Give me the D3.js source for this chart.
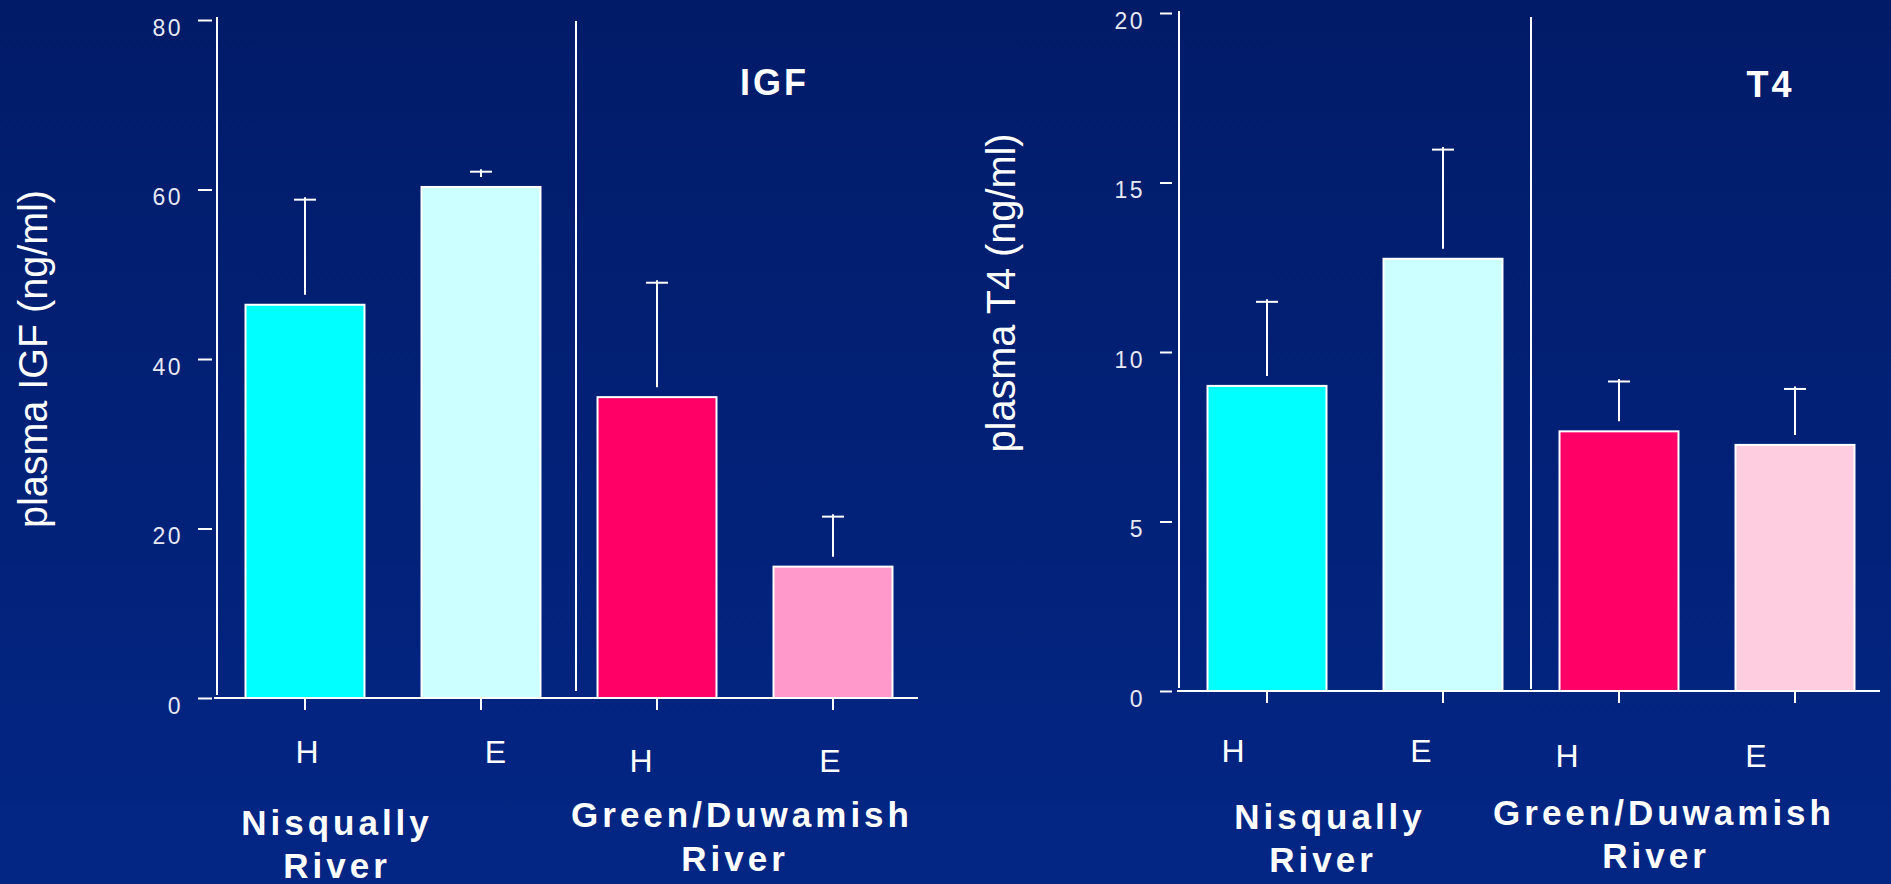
<!DOCTYPE html>
<html>
<head>
<meta charset="utf-8">
<script src="https://cdn.jsdelivr.net/npm/d3@7/dist/d3.min.js"></script>
<style>
  html, body { margin: 0; padding: 0; overflow: hidden; }
  body { width: 1891px; height: 884px; }
  svg { display: block; }
</style>
</head>
<body>
<svg id="chart" width="1891" height="884"></svg>
<script>
// ---------------- DATA ----------------
const categories = ["Nisqually H", "Nisqually E", "Green/Duwamish H", "Green/Duwamish E"];
const barLabels = ["H", "E", "H", "E"];
const riverLabels = [["Nisqually", "River"], ["Green/Duwamish", "River"]];

const igfMean = [46.4, 60.3, 35.5, 15.5];
const igfUpper = [58.8, 62.1, 49.0, 21.4];   // mean + SE
const igfTicks = [0, 20, 40, 60, 80];

const t4Mean = [9.0, 12.75, 7.66, 7.26];
const t4Upper = [11.48, 15.97, 9.13, 8.91];  // mean + SE
const t4Ticks = [0, 5, 10, 15, 20];

// ---------------- STYLE / LAYOUT ----------------
const igfColors = ["#00FFFF", "#CCFFFF", "#FF0066", "#FF99CC"];
const t4Colors  = ["#00FFFF", "#CCFFFF", "#FF0066", "#FFCCE0"];

const svg = d3.select("#chart");
const defs = svg.append("defs");
const grad = defs.append("linearGradient").attr("id", "bg")
  .attr("x1", 0).attr("y1", 0).attr("x2", 0).attr("y2", 1);
grad.append("stop").attr("offset", "0%").attr("stop-color", "#011b68");
grad.append("stop").attr("offset", "100%").attr("stop-color", "#032685");
svg.append("rect").attr("width", 1891).attr("height", 884).attr("fill", "url(#bg)");

const panels = [
  {
    mean: igfMean, upper: igfUpper, ticks: igfTicks, colors: igfColors,
    domain: [0, 80], yRange: [698, 20], xRange: [217, 921],
    axisX: 217, axisTop: 17, tickLen: 14, tickGap: 5, labelEnd: 183,
    xAxisStart: 214, xAxisEnd: 918, xTickLen: 12,
    divider: { top: 21, bottom: 691, dx: 7 },
    title: "IGF", titlePos: [773, 95],
    yLabel: "plasma IGF (ng/ml)", yLabelPos: [47, 359], yLabelLen: 338,
    barLabelPos: [[307, 751], [495.5, 751], [641, 760], [830, 760]],
    riverPos: [[[335, 835], [335, 878]], [[740, 827], [733, 871]]]
  },
  {
    mean: t4Mean, upper: t4Upper, ticks: t4Ticks, colors: t4Colors,
    domain: [0, 20], yRange: [691, 13], xRange: [1179, 1883],
    axisX: 1179, axisTop: 11, tickLen: 12, tickGap: 7, labelEnd: 1145,
    xAxisStart: 1177, xAxisEnd: 1880, xTickLen: 12,
    divider: { top: 17, bottom: 689, dx: 0 },
    title: "T4", titlePos: [1769, 97],
    yLabel: "plasma T4 (ng/ml)", yLabelPos: [1015, 293], yLabelLen: 319,
    barLabelPos: [[1233, 750], [1421, 750], [1567, 755], [1756, 755]],
    riverPos: [[[1328, 829], [1321, 872]], [[1662, 825], [1654, 868]]]
  }
];

panels.forEach(p => {
  const g = svg.append("g");
  const y = d3.scaleLinear().domain(p.domain).range(p.yRange);
  const x = d3.scaleBand().domain(categories).range(p.xRange)
    .paddingInner(0.324).paddingOuter(0.162);

  // Y axis ticks + labels
  const tickEnd = p.axisX - p.tickGap;
  const yAxis = d3.axisLeft(y).tickValues(p.ticks).tickSize(p.tickLen)
    .tickPadding(tickEnd - p.tickLen - p.labelEnd).tickSizeOuter(0);
  const ya = g.append("g").attr("transform", `translate(${tickEnd},0)`).call(yAxis);
  ya.select(".domain").remove();
  ya.selectAll(".tick line").attr("stroke", "#ffffff").attr("stroke-width", 2);
  ya.selectAll(".tick text")
    .attr("fill", "#e6e8f2")
    .attr("font-family", "Liberation Sans, Arial, sans-serif")
    .attr("font-size", 23)
    .attr("letter-spacing", "2.5px")
    .attr("y", 7)
    .attr("dy", "0.36em");

  // Y axis line
  g.append("line").attr("x1", p.axisX).attr("x2", p.axisX)
    .attr("y1", p.axisTop).attr("y2", p.yRange[0] - 3)
    .attr("stroke", "#fff").attr("stroke-width", 2);

  // X axis line
  g.append("line").attr("x1", p.xAxisStart).attr("x2", p.xAxisEnd)
    .attr("y1", y(0)).attr("y2", y(0))
    .attr("stroke", "#fff").attr("stroke-width", 2);

  // X ticks
  const xAxis = d3.axisBottom(x).tickSize(p.xTickLen).tickSizeOuter(0).tickFormat("");
  const xa = g.append("g").attr("transform", `translate(0,${y(0)})`).call(xAxis);
  xa.select(".domain").remove();
  xa.selectAll(".tick line").attr("stroke", "#fff").attr("stroke-width", 2);

  // Divider
  const midX = (x(categories[1]) + x.bandwidth() + x(categories[2])) / 2 + p.divider.dx;
  g.append("line").attr("x1", midX).attr("x2", midX)
    .attr("y1", p.divider.top).attr("y2", p.divider.bottom)
    .attr("stroke", "#fff").attr("stroke-width", 2);

  // Bars
  g.selectAll(".bar").data(categories).enter().append("rect")
    .attr("x", d => x(d))
    .attr("width", x.bandwidth())
    .attr("y", (d, i) => y(p.mean[i]))
    .attr("height", (d, i) => y(0) - y(p.mean[i]))
    .attr("fill", (d, i) => p.colors[i])
    .attr("stroke", "#fff").attr("stroke-width", 2);

  // Error bars
  categories.forEach((c, i) => {
    const cx = x(c) + x.bandwidth() / 2;
    g.append("line").attr("x1", cx).attr("x2", cx)
      .attr("y1", y(p.mean[i]) - 10).attr("y2", y(p.upper[i]) - 2.5)
      .attr("stroke", "#fff").attr("stroke-width", 2);
    g.append("line").attr("x1", cx - 11).attr("x2", cx + 11)
      .attr("y1", y(p.upper[i])).attr("y2", y(p.upper[i]))
      .attr("stroke", "#fff").attr("stroke-width", 2);
  });

  // Bar labels H / E
  barLabels.forEach((t, i) => {
    g.append("text").text(t)
      .attr("x", p.barLabelPos[i][0]).attr("y", p.barLabelPos[i][1])
      .attr("dy", "0.36em")
      .attr("text-anchor", "middle")
      .attr("fill", "#fff")
      .attr("font-family", "Liberation Sans, Arial, sans-serif")
      .attr("font-size", 32);
  });

  // River labels
  riverLabels.forEach((lines, gi) => {
    lines.forEach((t, li) => {
      const pos = p.riverPos[gi][li];
      g.append("text").text(t)
        .attr("x", pos[0] + 2).attr("y", pos[1])
        .attr("text-anchor", "middle")
        .attr("fill", "#fff")
        .attr("font-family", "Liberation Sans, Arial, sans-serif")
        .attr("font-weight", "bold")
        .attr("font-size", 35)
        .attr("letter-spacing", "4px");
    });
  });

  // Panel title
  g.append("text").text(p.title)
    .attr("x", p.titlePos[0] + 1.5).attr("y", p.titlePos[1])
    .attr("text-anchor", "middle")
    .attr("fill", "#fff")
    .attr("font-family", "Liberation Sans, Arial, sans-serif")
    .attr("font-weight", "bold")
    .attr("font-size", 36)
    .attr("letter-spacing", "3px");

  // Y axis title
  g.append("text").text(p.yLabel)
    .attr("transform", `translate(${p.yLabelPos[0]},${p.yLabelPos[1]}) rotate(-90)`)
    .attr("text-anchor", "middle")
    .attr("fill", "#fff")
    .attr("font-family", "Liberation Sans, Arial, sans-serif")
    .attr("font-weight", "normal")
    .attr("font-size", 40)
    .attr("textLength", p.yLabelLen)
    .attr("lengthAdjust", "spacingAndGlyphs");
});
</script>
</body>
</html>
